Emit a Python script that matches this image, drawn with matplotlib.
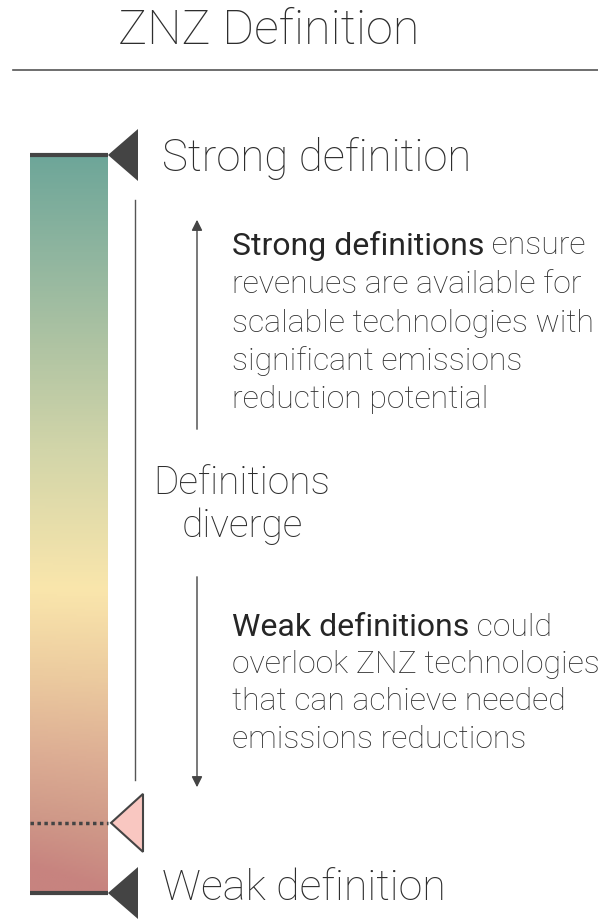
import numpy as np
import matplotlib.pyplot as plt
from matplotlib.colors import LinearSegmentedColormap
from matplotlib.patches import Polygon

plt.rcParams['font.family'] = ['Roboto', 'DejaVu Sans']

# texts
title = "ZNZ Definition"
top_label = "Strong definition"
bottom_label = "Weak definition"
middle_label = "Definitions\ndiverge"
strong_bold = "Strong definitions"
strong_rest = [" ensure", "revenues are available for", "scalable technologies with",
               "significant emissions", "reduction potential"]
weak_bold = "Weak definitions"
weak_rest = [" could", "overlook ZNZ technologies", "that can achieve needed",
             "emissions reductions"]

# gradient stops along the bar (0 = top/strong, 1 = bottom/weak)
grad_pos = [0.0, 0.13, 0.26, 0.40, 0.59, 0.71, 0.82, 0.91, 1.0]
grad_col = ["#6EA699", "#8FB59F", "#B0C4A3", "#D2D5A9", "#FAE6AC",
            "#ECCB9F", "#DDAE94", "#D09A89", "#C7837F"]

# position of the current marker on the scale (0 = strong, 1 = weak)
marker_pos = 0.905

W, H = 598, 923
fig = plt.figure(figsize=(W / 100, H / 100), dpi=100)
ax = fig.add_axes([0, 0, 1, 1])
ax.set_xlim(0, W)
ax.set_ylim(H, 0)
ax.axis('off')

dark = "#444444"
txt = "#2e2e2e"

# title + rule
ax.text(269, 31, title, ha='center', va='center', fontsize=35, color=txt, fontweight='light')
ax.plot([13, W], [70, 70], color="#555555", lw=1.2)

# gradient bar
bx0, bx1, by0, by1 = 30, 108, 155, 893
cmap = LinearSegmentedColormap.from_list("znz", list(zip(grad_pos, grad_col)))
yy = np.linspace(0, 1, 400)[:, None]
xx = np.linspace(0, 1, 60)[None, :]
# slight diagonal shading towards the lower left
img = np.clip(yy + 0.04 * (1 - xx) * yy ** 6, 0, 1)
ax.imshow(img, cmap=cmap, extent=[bx0, bx1, by1, by0], aspect='auto', vmin=0, vmax=1)

# top and bottom marks
for yv in (by0, by1):
    ax.plot([bx0, bx1], [yv, yv], color=dark, lw=3, solid_capstyle='butt')
    ax.add_patch(Polygon([[bx1, yv], [138, yv - 26], [138, yv + 26]], closed=True,
                         facecolor=dark, edgecolor='none'))

# current marker
my = by0 + marker_pos * (by1 - by0)
ax.plot([bx0, bx1], [my, my], color=dark, lw=2.5, ls=(0, (1, 1)))
ax.add_patch(Polygon([[111, my], [143, my - 29], [143, my + 29]], closed=True,
                     facecolor="#F9C7C1", edgecolor=dark, lw=1.5))

# thin vertical line
ax.plot([135, 135], [200, 780], color="#555555", lw=1)

# labels
ax.text(162, 158, top_label, ha='left', va='center', fontsize=31.5, color=txt, fontweight='light')
ax.text(162, 888, bottom_label, ha='left', va='center', fontsize=31, color=txt, fontweight='light')
ax.text(242, 505, middle_label, ha='center', va='center', fontsize=28, color=txt,
        fontweight='light', linespacing=1.18)

# arrows
ax.annotate("", xy=(197, 217), xytext=(197, 432),
            arrowprops=dict(arrowstyle='-|>', color=dark, lw=1, mutation_scale=16))
ax.annotate("", xy=(197, 790), xytext=(197, 574),
            arrowprops=dict(arrowstyle='-|>', color=dark, lw=1, mutation_scale=16))


def block(x, y0, bold, rest, step=38.5):
    b = ax.text(x, y0, bold, ha='left', va='center', fontsize=23, color="#262626",
                fontweight='normal')
    ax.annotate(rest[0], xy=(1, 0.5), xycoords=b, ha='left', va='center',
                fontsize=23, color=txt, fontweight='light')
    for i, line in enumerate(rest[1:], start=1):
        ax.text(x, y0 + i * step, line, ha='left', va='center', fontsize=23,
                color=txt, fontweight='light')


block(232, 246, strong_bold, strong_rest)
block(232, 627, weak_bold, weak_rest, step=37.5)

fig.savefig("out.png", dpi=100)
